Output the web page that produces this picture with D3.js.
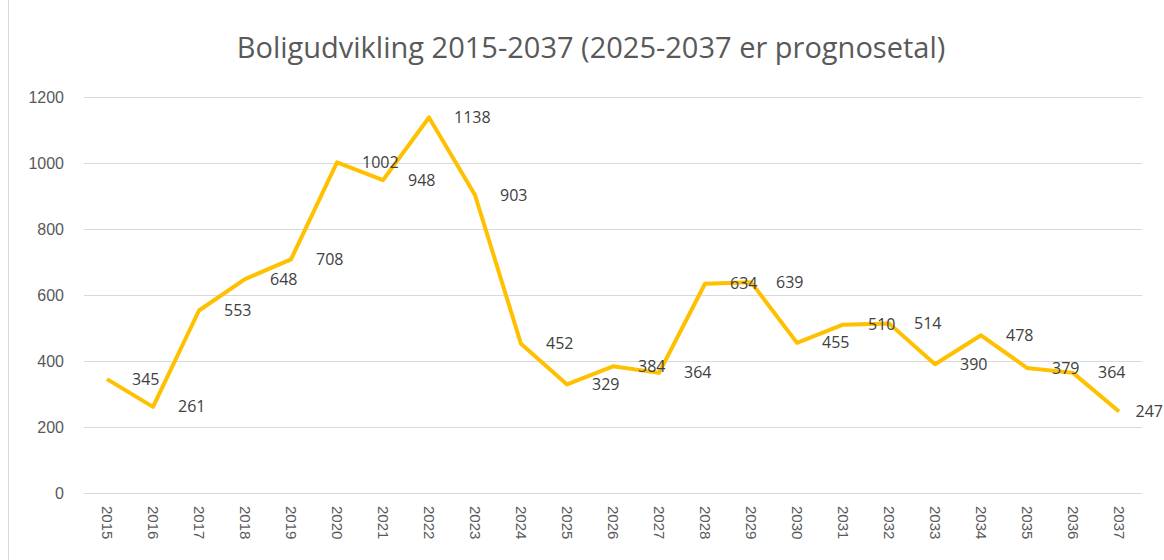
<!DOCTYPE html>
<html>
<head>
<meta charset="utf-8">
<script src="https://cdn.jsdelivr.net/npm/d3@7"></script>
<style>
  body { margin: 0; background: #fff; }
  svg { display: block; font-family: "Open Sans", "Noto Sans", sans-serif; }
</style>
</head>
<body>
<script>
// Chart data
var years = ["2015", "2016", "2017", "2018", "2019", "2020", "2021", "2022", "2023", "2024", "2025", "2026",
             "2027", "2028", "2029", "2030", "2031", "2032", "2033", "2034", "2035", "2036", "2037"];
var values = [345, 261, 553, 648, 708, 1002, 948, 1138, 903, 452, 329, 384,
              364, 634, 639, 455, 510, 514, 390, 478, 379, 364, 247];
var yTicks = [0, 200, 400, 600, 800, 1000, 1200];
var title = "Boligudvikling 2015-2037 (2025-2037 er prognosetal)";

var w = 1164, h = 560;
var margin = { left: 84, right: 22, top: 97, bottom: 67 };

var svg = d3.select("body").append("svg")
    .attr("width", w)
    .attr("height", h);

// chart frame
svg.append("rect")
    .attr("x", 8.5).attr("y", -1)
    .attr("width", w + 10).attr("height", h + 10)
    .attr("fill", "none")
    .attr("stroke", "#d9d9d9");

// Scales
var x = d3.scalePoint()
    .domain(years)
    .range([margin.left, w - margin.right])
    .padding(0.5);

var y = d3.scaleLinear()
    .domain([0, 1200])
    .range([h - margin.bottom, margin.top]);

// Title
svg.append("text")
    .attr("x", 591)
    .attr("y", 58)
    .attr("text-anchor", "middle")
    .attr("fill", "#595959")
    .attr("font-size", 29)
    .text(title);

// Gridlines + y axis labels
var yAxis = d3.axisLeft(y)
    .tickValues(yTicks)
    .tickFormat(d3.format("d"))
    .tickSize(-(w - margin.left - margin.right))
    .tickPadding(20);

var gy = svg.append("g")
    .attr("transform", "translate(" + margin.left + ",0)")
    .call(yAxis);
gy.select(".domain").remove();
gy.selectAll("line").attr("stroke", "#d9d9d9");
gy.selectAll("text")
    .attr("fill", "#595959")
    .attr("font-size", 16);

// X axis labels, rotated
var xAxis = d3.axisBottom(x).tickSize(0).tickPadding(0);
var gx = svg.append("g")
    .attr("transform", "translate(0," + (h - margin.bottom) + ")")
    .call(xAxis);
gx.select(".domain").remove();
gx.selectAll("text")
    .attr("fill", "#595959")
    .attr("font-size", 15)
    .attr("text-anchor", "start")
    .attr("transform", "rotate(90)")
    .attr("x", 13)
    .attr("y", 0)
    .attr("dy", "0.35em");

// Line
var line = d3.line()
    .x(function(d, i) { return x(years[i]); })
    .y(function(d) { return y(d); });

svg.append("path")
    .datum(values)
    .attr("d", line)
    .attr("fill", "none")
    .attr("stroke", "#ffc000")
    .attr("stroke-width", 4)
    .attr("stroke-linejoin", "round");

// Data labels, right of each point (kept inside the page)
svg.selectAll(".lbl")
    .data(values)
    .enter()
    .append("text")
    .attr("class", "lbl")
    .attr("x", function(d, i) { return x(years[i]) + 25; })
    .attr("y", function(d) { return y(d); })
    .attr("dy", "0.35em")
    .attr("fill", "#404040")
    .attr("font-size", 16)
    .text(function(d) { return d; })
    .each(function() {
        var t = d3.select(this);
        var len = this.getComputedTextLength();
        var lx = +t.attr("x");
        if (lx + len > w - 1) t.attr("x", w - 1 - len);
    });
</script>
</body>
</html>
